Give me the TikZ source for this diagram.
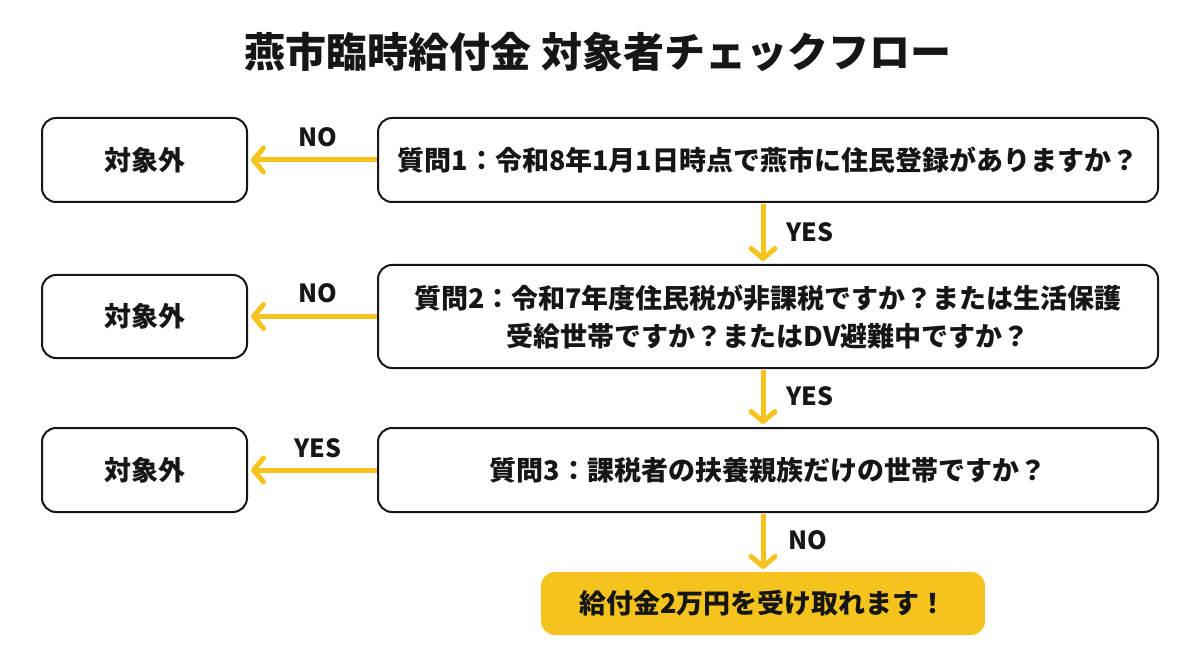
\documentclass[tikz,border=0pt]{standalone}
\usepackage{fontspec}
\setmainfont{Noto Sans CJK JP}
\usetikzlibrary{arrows.meta}
\definecolor{ylw}{RGB}{245,195,30}
\definecolor{ink}{RGB}{22,22,22}
\tikzset{
  box/.style={draw=ink, line width=2pt, rounded corners=14pt, fill=white, text=ink,
    font=\fontsize{27}{38}\selectfont\bfseries, align=center, inner sep=0pt},
  yarr/.style={draw=ylw, line width=5pt, -{Straight Barb[length=10pt,width=24pt,line cap=round,line join=round]}},
  lab/.style={text=ink, font=\fontsize{25}{30}\selectfont\bfseries, inner sep=0pt},
}
\begin{document}
\begin{tikzpicture}[x=1pt,y=-1pt]
\useasboundingbox (0,0) rectangle (1200,655);
\node[text=ink, font=\fontsize{41}{48}\selectfont\bfseries, inner sep=0pt] (title) at (598,52) {燕市臨時給付金 対象者チェックフロー};

\node[box, minimum width=780pt, minimum height=84pt] (q1) at (768,160) {質問1：令和8年1月1日時点で燕市に住民登録がありますか？};
\node[box, minimum width=780pt, minimum height=103pt] (q2) at (768,316.5) {質問2：令和7年度住民税が非課税ですか？または生活保護\\受給世帯ですか？またはDV避難中ですか？};
\node[box, minimum width=780pt, minimum height=84pt] (q3) at (768,470) {質問3：課税者の扶養親族だけの世帯ですか？};

\node[box, minimum width=205pt, minimum height=84pt] (o1) at (144.5,160) {対象外};
\node[box, minimum width=205pt, minimum height=83pt] (o2) at (144.5,316.5) {対象外};
\node[box, minimum width=205pt, minimum height=84pt] (o3) at (144.5,470) {対象外};

\node[box, draw=none, fill=ylw, minimum width=444pt, minimum height=63pt] (fin) at (763,603.5) {給付金2万円を受け取れます！};

\draw[yarr, shorten >=3pt] (q1.west) -- (o1.east);
\draw[yarr, shorten >=3pt] (q2.west) -- (o2.east);
\draw[yarr, shorten >=3pt] (q3.west) -- (o3.east);

\draw[yarr, shorten <=1pt, shorten >=3pt] ([xshift=-5pt]q1.south) -- ([xshift=-5pt]q2.north);
\draw[yarr, shorten <=1pt, shorten >=3pt] ([xshift=-5pt]q2.south) -- ([xshift=-5pt]q3.north);
\draw[yarr, shorten <=1pt, shorten >=2pt] ([xshift=-5pt]q3.south) -- (fin.north);

\node[lab] (l1) at (318,137) {NO};
\node[lab] (l2) at (318,293) {NO};
\node[lab] (l3) at (318,448) {YES};
\node[lab] (l4) at (810,232) {YES};
\node[lab] (l5) at (810,396) {YES};
\node[lab] (l6) at (808,540) {NO};
\end{tikzpicture}
\end{document}
